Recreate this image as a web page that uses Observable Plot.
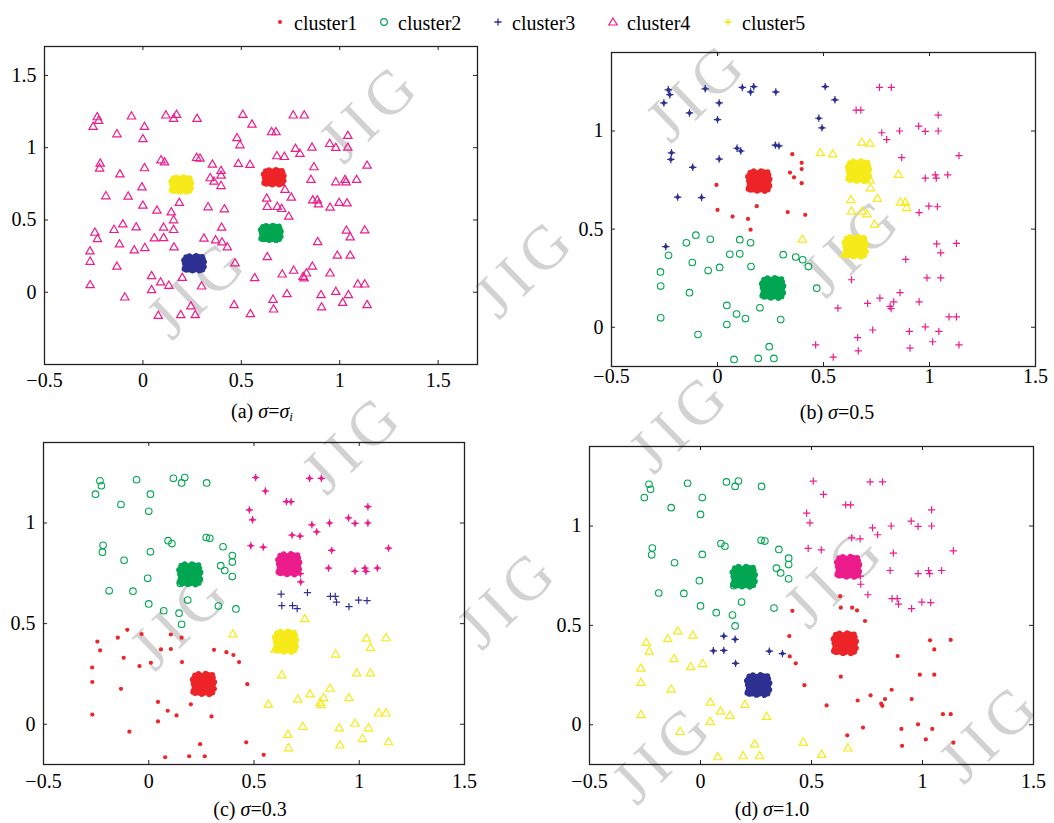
<!DOCTYPE html>
<html><head><meta charset="utf-8">
<script src="https://cdn.jsdelivr.net/npm/d3@7"></script>
<script src="https://cdn.jsdelivr.net/npm/@observablehq/plot@0.6"></script>
<style>
body{margin:0;background:#fff;}
#root{position:relative;width:1054px;height:823px;font-family:"Liberation Serif","Times New Roman",serif;color:#000;overflow:hidden;background:#fff}
.panel{position:absolute;z-index:1}
.cap{position:absolute;font-size:20px;line-height:20px;white-space:nowrap;transform:translateX(-50%);z-index:2}
.cap sub{font-size:13px;vertical-align:-3px;line-height:0}
.legtxt{position:absolute;font-size:20px;line-height:20px;white-space:nowrap;z-index:2}
.legsym{position:absolute;width:14px;height:14px;z-index:2}
.wm{position:absolute;font-size:62px;line-height:54px;letter-spacing:8px;padding-left:8px;color:#d2d2d2;white-space:nowrap;transform:translate(-50%,-50%) rotate(-44deg);z-index:0;pointer-events:none}
</style></head><body><div id="root"></div>
<script>
// ---------------- data ----------------
const clusterNames = ["cluster1", "cluster2", "cluster3", "cluster4", "cluster5"];
const clusterColors = ["#ed2428", "#00a651", "#2e3192", "#ec1c8c", "#f7ea1a"];
const legendMarkers = ["dot", "circle", "plus", "triangle", "star"];

// scattered (noise) points, shared by all four panels
const pointsX = [
-0.232,-0.253,-0.225,-0.058,0.117,0.171,0.156,0.275,0.008,-0.132,
0.000,0.508,0.554,0.764,0.820,0.654,0.676,0.478,0.493,1.041,
0.949,0.980,1.041,0.859,0.775,0.798,0.681,0.719,-0.217,-0.220,
-0.117,0.008,0.092,0.110,0.273,0.290,0.353,0.485,0.544,0.397,
0.397,0.342,0.361,0.397,-0.005,-0.188,-0.075,0.000,0.185,0.071,
0.144,0.156,0.331,0.414,0.629,0.632,0.722,0.754,0.683,0.705,
0.741,0.854,0.869,0.980,1.027,1.032,1.086,1.139,0.863,0.886,
0.892,0.951,0.997,1.037,1.034,1.053,1.127,0.888,0.988,1.053,
0.632,0.861,0.766,0.831,0.814,0.819,0.708,0.951,1.092,1.127,
0.980,1.044,0.905,1.015,0.908,1.139,0.732,0.661,0.664,0.546,
0.463,0.568,0.468,0.429,0.402,0.369,0.310,0.400,0.156,0.105,
0.158,0.105,0.058,0.010,-0.044,-0.034,-0.102,-0.147,-0.119,-0.244,
-0.231,-0.269,-0.268,-0.132,-0.268,0.044,0.090,0.132,0.044,0.200,
0.298,-0.092,0.078,0.192,0.266,0.244,
0.600,0.720,0.150];
const pointsY = [
1.210,1.143,1.185,1.215,1.222,1.226,1.199,1.199,1.143,1.092,
1.058,1.226,1.159,1.222,1.222,1.106,1.106,1.065,1.016,1.081,
1.025,0.998,1.000,1.000,0.991,0.956,0.940,0.935,0.889,0.855,
0.815,0.857,0.912,0.898,0.928,0.924,0.882,0.887,0.880,0.838,
0.806,0.788,0.764,0.734,0.725,0.663,0.661,0.598,0.617,0.564,
0.552,0.497,0.587,0.573,0.647,0.589,0.707,0.654,0.589,0.575,
0.522,0.776,0.864,0.760,0.776,0.760,0.776,0.875,0.635,0.635,
0.607,0.584,0.617,0.614,0.425,0.379,0.427,0.346,0.252,0.252,
0.242,0.176,0.148,0.129,0.106,0.095,0.122,0.129,0.053,0.053,
0.002,-0.021,-0.021,-0.074,-0.106,-0.090,-0.014,-0.053,-0.120,-0.152,
-0.090,0.097,0.199,0.309,0.344,0.358,0.370,0.446,0.430,0.446,
0.309,0.374,0.372,0.305,0.289,0.448,0.469,0.430,0.330,0.411,
0.367,0.282,0.210,0.176,0.048,0.111,0.067,0.044,0.014,0.099,
0.039,-0.037,-0.164,-0.159,-0.159,-0.099,
0.370,0.748,0.700];

// cluster label of every scattered point in each panel (0 = hidden)
const labelsA = [
4,4,4,4,4,4,4,4,4,4, 4,4,4,4,4,4,4,4,4,4, 4,4,4,4,4,4,4,4,4,4,
4,4,4,4,4,4,4,4,4,4, 4,4,4,4,4,4,4,4,4,4, 4,4,4,4,4,4,4,4,4,4,
4,4,4,4,4,4,4,4,4,4, 4,4,4,4,4,4,4,4,4,4, 4,4,4,4,4,4,4,4,4,4,
4,4,4,4,4,4,4,4,4,4, 4,4,4,4,4,4,4,4,4,4, 4,4,4,4,4,4,4,4,4,4,
4,4,4,4,4,4,4,4,4,4, 4,4,4,4,4,4, 0,0,0];
const labelsB = [
3,3,3,3,3,3,3,3,3,3, 3,3,3,4,4,4,4,3,3,4, 4,4,4,4,4,4,5,5,3,3,
3,3,3,3,3,3,1,5,5,1, 1,1,1,1,1,3,3,1,1,1, 1,1,1,1,5,5,5,5,5,5,
5,5,4,4,4,4,4,4,5,5, 5,4,4,4,4,4,4,4,4,4, 4,4,4,4,4,4,4,4,4,4,
4,4,4,4,4,4,4,4,4,4, 4,4,2,2,2,2,2,5,2,2, 2,2,2,2,2,2,2,2,2,3,
2,2,2,2,2,2,2,2,2,2, 2,2,2,2,2,2, 5,5,1];
const labelsC = [
2,2,2,2,2,2,2,2,2,2, 2,4,4,4,4,4,4,4,4,4, 4,4,4,4,4,4,4,4,2,2,
2,2,2,2,2,2,2,4,4,2, 2,2,2,2,2,2,2,2,2,2, 2,2,2,2,3,3,4,3,3,3,
5,4,4,4,4,4,4,4,3,3, 3,3,3,3,5,5,5,5,5,5, 5,5,5,5,5,5,5,5,5,5,
5,5,5,5,5,5,5,5,5,1, 1,5,1,1,1,1,1,5,1,1, 1,1,1,1,1,1,1,1,1,1,
1,1,1,1,1,1,1,1,1,1, 1,1,1,1,1,1, 5,4,2];
const labelsD = [
2,2,2,2,2,2,2,2,2,2, 2,4,4,4,4,4,4,4,4,4, 4,4,4,4,4,4,4,4,2,2,
2,2,2,2,2,2,2,4,4,2, 2,2,2,2,2,2,2,2,2,2, 2,2,2,1,1,1,4,4,1,1,
1,4,4,4,4,4,4,4,4,4, 4,4,4,4,1,1,1,1,1,1, 1,1,1,1,1,1,1,1,1,1,
1,1,1,1,1,1,1,1,5,5, 5,1,1,1,1,3,3,1,3,3, 3,3,3,5,5,5,5,5,5,5,
5,5,5,5,5,5,5,5,5,5, 5,5,5,5,5,5, 1,4,2];

// dense cluster cores (centres) and the cluster of each core per panel
const coreX = [0.195, 0.665, 0.650, 0.260];
const coreY = [0.745, 0.795, 0.410, 0.200];
const coreLabelsA = [5, 1, 2, 3];
const coreLabelsB = [1, 5, 5, 2];
const coreLabelsC = [2, 4, 5, 1];
const coreLabelsD = [2, 4, 1, 3];
// members of one dense core, relative to its centre
const coreDX = [
-0.040,-0.027,-0.012,0.004,0.018,0.032,0.043,
-0.047,-0.031,-0.016,-0.001,0.014,0.029,0.046,
-0.044,-0.029,-0.014,0.002,0.017,0.031,0.045,
-0.048,-0.032,-0.017,-0.002,0.013,0.028,0.047,
-0.045,-0.030,-0.015,0.001,0.016,0.030,0.044,
-0.046,-0.028,-0.013,0.003,0.019,0.033,0.046,
-0.041,-0.026,-0.011,0.005,0.020,0.034,0.042,
-0.052,0.051,-0.024,0.027,0.052,-0.050,0.010,-0.008];
const coreDY = [
-0.046,-0.044,-0.047,-0.045,-0.043,-0.046,-0.044,
-0.031,-0.029,-0.032,-0.030,-0.028,-0.031,-0.029,
-0.014,-0.016,-0.013,-0.015,-0.017,-0.014,-0.016,
0.001,-0.001,0.002,0.000,-0.002,0.001,0.000,
0.016,0.014,0.017,0.015,0.013,0.016,0.014,
0.029,0.031,0.028,0.030,0.032,0.029,0.031,
0.044,0.046,0.043,0.045,0.047,0.044,0.046,
0.022,-0.024,0.051,-0.052,0.010,-0.040,0.052,-0.051];

const markersA = {1:"dot", 2:"circle", 3:"star", 4:"triangle", 5:"star"};
const markersB = {1:"dot", 2:"circle", 3:"star", 4:"plus", 5:"triangle"};
const markersC = {1:"dot", 2:"circle", 3:"plus", 4:"star", 5:"triangle"};
const markersD = {1:"dot", 2:"circle", 3:"star", 4:"plus", 5:"triangle"};

const xTicks = [-0.5, 0, 0.5, 1, 1.5];
const yTicksA = [0, 0.5, 1, 1.5];
const yTicksB = [0, 0.5, 1];

const watermarkText = "JIG";

// ---------------- drawing ----------------
const plusSymbol = {draw(ctx, size) {
  const r = Math.sqrt(size / Math.PI);
  ctx.moveTo(-r, 0); ctx.lineTo(r, 0); ctx.moveTo(0, -r); ctx.lineTo(0, r);
}};
const starSymbol = {draw(ctx, size) {
  const r = Math.sqrt(size / Math.PI), d = r * 0.5;
  ctx.moveTo(-r, 0); ctx.lineTo(r, 0); ctx.moveTo(0, -r); ctx.lineTo(0, r);
  ctx.moveTo(0, -d); ctx.lineTo(d, 0); ctx.lineTo(0, d); ctx.lineTo(-d, 0); ctx.closePath();
}};
function markerOptions(kind, color) {
  switch (kind) {
    case "dot": return {r: 2.1, fill: color, stroke: "none"};
    case "circle": return {r: 3.3, fill: "none", stroke: color, strokeWidth: 1.1};
    case "triangle": return {symbol: "triangle", r: 3.1, fill: "none", stroke: color, strokeWidth: 1.2};
    case "plus": return {symbol: plusSymbol, r: 3.6, fill: "none", stroke: color, strokeWidth: 1.2};
    case "star": return {symbol: starSymbol, r: 3.7, fill: color, stroke: color, strokeWidth: 1.2};
  }
}

const points = pointsX.map((x, i) => ({x, y: pointsY[i], i}));
const fmt = d3.format("~g");

const panels = [
  {left: 0, top: 30, width: 527, height: 380, ml: 44, mr: 50, mt: 16, mb: 46,
   xd: [-0.5, 1.7], yd: [-0.5, 1.7], yt: yTicksA, xpad: 8, labels: labelsA, markers: markersA, cores: coreLabelsA},
  {left: 527, top: 30, width: 527, height: 380, ml: 84, mr: 19, mt: 22, mb: 44,
   xd: [-0.5, 1.5], yd: [-0.2, 1.4], yt: yTicksB, xpad: 2, labels: labelsB, markers: markersB, cores: coreLabelsB},
  {left: 0, top: 420, width: 527, height: 375, ml: 43, mr: 63, mt: 22, mb: 31,
   xd: [-0.5, 1.5], yd: [-0.2, 1.4], yt: yTicksB, xpad: 9, labels: labelsC, markers: markersC, cores: coreLabelsC},
  {left: 527, top: 420, width: 527, height: 375, ml: 62, mr: 21, mt: 26, mb: 31,
   xd: [-0.5, 1.5], yd: [-0.2, 1.4], yt: yTicksB, xpad: 9, labels: labelsD, markers: markersD, cores: coreLabelsD}
];

const root = document.getElementById("root");

// faint publisher watermark, repeated on a diagonal lattice (only whole copies)
for (let a = -3; a <= 7; a++) {
  for (let b = -3; b <= 5; b++) {
    const cx = 195 + a * 155 + b * 172, cy = 290 + a * 155 - b * 176;
    if (cx < 62 || cx > 992 || cy < 62 || cy > 761) continue;
    const w = document.createElement("div");
    w.className = "wm";
    w.style.left = cx + "px";
    w.style.top = cy + "px";
    w.textContent = watermarkText;
    root.appendChild(w);
  }
}

for (const p of panels) {
  const fw = p.width - p.ml - p.mr, fh = p.height - p.mt - p.mb;
  const innerX = xTicks.filter(t => t > p.xd[0] && t < p.xd[1]);
  const innerY = p.yt.filter(t => t > p.yd[0] && t < p.yd[1]);
  const coreData = [];
  p.cores.forEach((c, j) => coreDX.forEach((dx, k) => coreData.push({x: coreX[j] + dx, y: coreY[j] + coreDY[k], c})));
  const marks = [];
  for (let k = 1; k <= 5; k++) {
    const sub = points.filter(d => p.labels[d.i] === k);
    if (sub.length) marks.push(Plot.dot(sub, {x: "x", y: "y", clip: true, ...markerOptions(p.markers[k], clusterColors[k - 1])}));
  }
  for (let k = 1; k <= 5; k++) {
    const sub = coreData.filter(d => d.c === k);
    if (sub.length) marks.push(Plot.dot(sub, {x: "x", y: "y", r: 2.7, fill: clusterColors[k - 1], stroke: "none"}));
  }
  marks.push(
    Plot.tickX(innerX, {x: d => d, insetTop: fh - 4, stroke: "#222", strokeWidth: 1}),
    Plot.tickX(innerX, {x: d => d, insetBottom: fh - 4, stroke: "#222", strokeWidth: 1}),
    Plot.tickY(innerY, {y: d => d, insetRight: fw - 4, stroke: "#222", strokeWidth: 1}),
    Plot.tickY(innerY, {y: d => d, insetLeft: fw - 4, stroke: "#222", strokeWidth: 1}),
    Plot.axisX(xTicks, {tickSize: 0, tickPadding: p.xpad, tickFormat: fmt, label: null, fill: "#000"}),
    Plot.axisY(p.yt, {tickSize: 0, tickPadding: 8, tickFormat: fmt, label: null, fill: "#000"}),
    Plot.frame({stroke: "#222", strokeWidth: 1.3})
  );
  const chart = Plot.plot({
    width: p.width, height: p.height,
    marginLeft: p.ml, marginRight: p.mr, marginTop: p.mt, marginBottom: p.mb,
    x: {domain: p.xd, nice: false},
    y: {domain: p.yd, nice: false},
    style: {fontFamily: "'Liberation Serif', 'Times New Roman', serif", fontSize: "20px", color: "#000", background: "transparent", overflow: "visible"},
    marks
  });
  const div = document.createElement("div");
  div.className = "panel";
  div.style.left = p.left + "px";
  div.style.top = p.top + "px";
  div.appendChild(chart);
  root.appendChild(div);
}

// captions
const captions = [
  {x: 262, top: 401, html: "(a) <i>σ</i>=<i>σ</i><sub><i>i</i></sub>"},
  {x: 837, top: 402, html: "(b) <i>σ</i>=0.5"},
  {x: 250, top: 799, html: "(c) <i>σ</i>=0.3"},
  {x: 772, top: 799, html: "(d) <i>σ</i>=1.0"}
];
for (const c of captions) {
  const d = document.createElement("div");
  d.className = "cap";
  d.style.left = c.x + "px";
  d.style.top = c.top + "px";
  d.innerHTML = c.html;
  root.appendChild(d);
}

// legend
const legendX = [280, 384, 498, 613, 728];
function legendSymbolSVG(kind, color) {
  const c = 7;
  let inner = "";
  if (kind === "dot") inner = `<circle cx="${c}" cy="${c}" r="2" fill="${color}"/>`;
  if (kind === "circle") inner = `<circle cx="${c}" cy="${c}" r="3.3" fill="none" stroke="${color}" stroke-width="1.2"/>`;
  if (kind === "plus") inner = `<path d="M${c-3.6},${c}H${c+3.6}M${c},${c-3.6}V${c+3.6}" stroke="${color}" stroke-width="1.3"/>`;
  if (kind === "triangle") inner = `<path d="M${c},${c-4}L${c+4.2},${c+3}L${c-4.2},${c+3}Z" fill="none" stroke="${color}" stroke-width="1.2"/>`;
  if (kind === "star") inner = `<path d="M${c-3.6},${c}H${c+3.6}M${c},${c-3.6}V${c+3.6}" stroke="${color}" stroke-width="1.3"/><path d="M${c},${c-1.9}L${c+1.9},${c}L${c},${c+1.9}L${c-1.9},${c}Z" fill="${color}"/>`;
  return `<svg width="14" height="14" viewBox="0 0 14 14">${inner}</svg>`;
}
clusterNames.forEach((name, k) => {
  const s = document.createElement("div");
  s.className = "legsym";
  s.style.left = (legendX[k] - 7) + "px";
  s.style.top = (22 - 7) + "px";
  s.innerHTML = legendSymbolSVG(legendMarkers[k], clusterColors[k]);
  root.appendChild(s);
  const t = document.createElement("div");
  t.className = "legtxt";
  t.style.left = (legendX[k] + 14) + "px";
  t.style.top = "13px";
  t.textContent = name;
  root.appendChild(t);
});
</script></body></html>
